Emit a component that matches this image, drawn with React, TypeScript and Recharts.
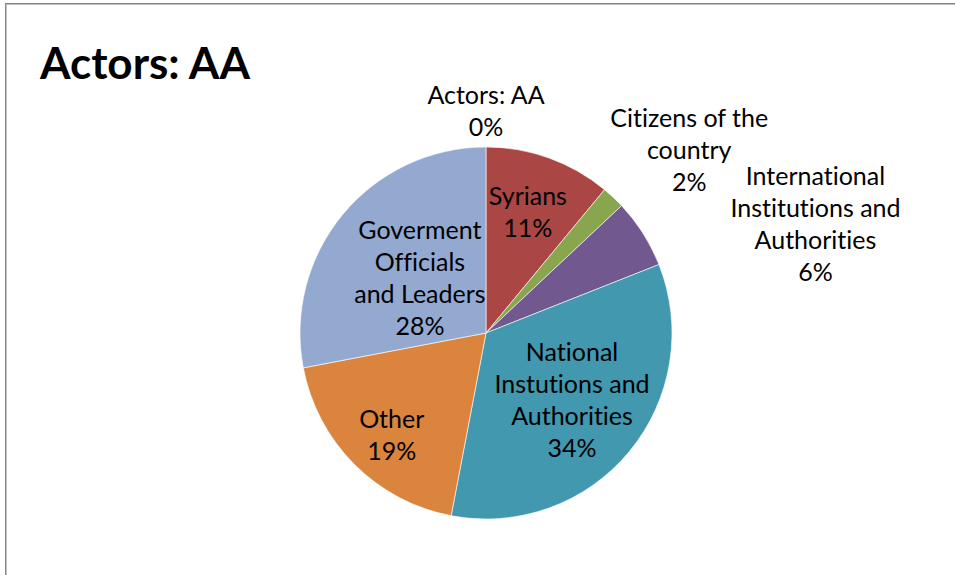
import { PieChart, Pie, Cell } from 'recharts'

// categories, wrapped the way the source chart wraps them
const categories = [
  'Actors: AA',
  'Syrians',
  'Citizens of the\ncountry',
  'International\nInstitutions and\nAuthorities',
  'National\nInstutions and\nAuthorities',
  'Other',
  'Goverment\nOfficials\nand Leaders',
]
const shares = [0, 11, 2, 6, 34, 19, 28]

const colors = ['#4572A7', '#AA4643', '#89A54E', '#71588F', '#4198AF', '#DB843D', '#93A9CF']

// label placement: distance from centre (px) and angle nudge (deg) relative to the slice middle
const labelRadius = [222, 128, 273, 347, 109, 139, 86]
const labelNudge = [0, -0.7, 4.9, 14.1, -1.7, -2.3, 0.2]

const data = categories.map((name, i) => ({ name, value: shares[i] }))

const FONT = 'Lato, "Open Sans", sans-serif'
const LINE = 32

// eslint-disable-next-line @typescript-eslint/no-explicit-any
function SliceLabel(props: any) {
  const { cx, cy, midAngle, percent, index, name } = props
  // recharts angle -> clockwise from 12 o'clock
  const theta = ((90 - midAngle + labelNudge[index]) * Math.PI) / 180
  const r = labelRadius[index]
  const x = cx + r * Math.sin(theta)
  const y = cy - r * Math.cos(theta)
  const lines = [...String(name).split('\n'), `${Math.round(percent * 100)}%`]
  const top = y - ((lines.length - 1) * LINE) / 2
  return (
    <text
      x={x}
      y={top}
      textAnchor="middle"
      fill="#000"
      fontSize={25}
      fontFamily={FONT}
      style={{ fontVariantLigatures: 'none' }}
    >
      {lines.map((line, i) => (
        <tspan key={i} x={x} y={top + i * LINE} dy="0.35em">
          {line}
        </tspan>
      ))}
    </text>
  )
}

export default function App() {
  return (
    <div
      style={{
        position: 'absolute',
        left: 0,
        top: 0,
        width: 955,
        height: 575,
        overflow: 'hidden',
        background: '#fff',
      }}
    >
      <div
        style={{
          position: 'absolute',
          left: 5,
          top: 3,
          width: 1200,
          height: 900,
          borderLeft: '1px solid #858585',
          borderTop: '1px solid #858585',
          boxShadow: 'inset 1px 1px 0 #c0c0c0',
        }}
      />
      <div
        style={{
          position: 'absolute',
          left: 40,
          top: 36,
          fontFamily: FONT,
          fontWeight: 700,
          fontSize: 44,
          lineHeight: '52px',
          color: '#000',
          fontVariantLigatures: 'none',
        }}
      >
        Actors: AA
      </div>
      <div style={{ position: 'absolute', left: 0, top: 0 }}>
        <PieChart width={955} height={575} margin={{ top: 0, right: 0, bottom: 0, left: 0 }}>
          <Pie
            data={data}
            dataKey="value"
            nameKey="name"
            cx={486}
            cy={333}
            outerRadius={186}
            startAngle={90}
            endAngle={-270}
            stroke="#ffffff"
            strokeWidth={1}
            strokeOpacity={0.6}
            label={<SliceLabel />}
            labelLine={false}
            isAnimationActive={false}
          >
            {data.map((d, i) => (
              <Cell key={d.name} fill={colors[i]} />
            ))}
          </Pie>
        </PieChart>
      </div>
    </div>
  )
}
